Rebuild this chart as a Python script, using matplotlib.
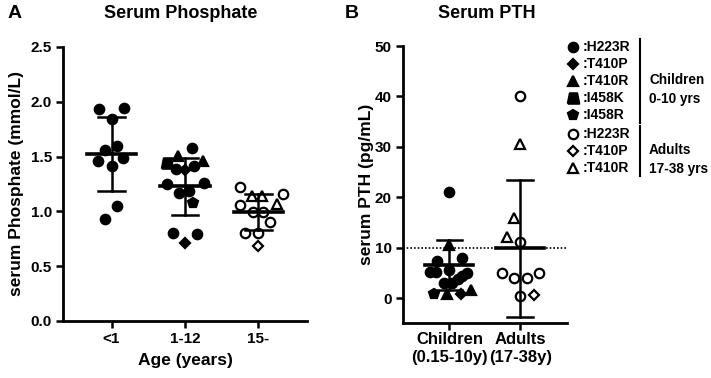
import numpy as np
import matplotlib
matplotlib.use('Agg')
import matplotlib.pyplot as plt

plt.rcParams['font.family'] = ['Liberation Sans', 'DejaVu Sans']
plt.rcParams['font.weight'] = 'bold'
plt.rcParams['axes.labelweight'] = 'bold'

#%% data - Panel A (serum phosphate, mmol/L)
phos_groups = ['<1', '1-12', '15-']
# (x offset from group centre, value, marker key)
phos_lt1 = [(-0.17, 1.938, 'H223R'), (0.17, 1.944, 'H223R'), (0.0, 1.846, 'H223R'),
            (-0.087, 1.557, 'H223R'), (0.076, 1.597, 'H223R'), (-0.177, 1.463, 'H223R'),
            (0.158, 1.484, 'H223R'), (0.0, 1.417, 'H223R'), (0.076, 1.045, 'H223R'),
            (-0.087, 0.935, 'H223R')]
phos_1to12 = [(0.089, 1.579, 'H223R'), (-0.25, 1.441, 'I458K'), (-0.098, 1.502, 'T410R'),
              (0.25, 1.463, 'T410R'), (-0.123, 1.387, 'H223R'), (0.0, 1.380, 'T410P'),
              (0.117, 1.417, 'H223R'), (-0.25, 1.252, 'H223R'), (0.254, 1.258, 'H223R'),
              (-0.087, 1.172, 'H223R'), (0.061, 1.190, 'H223R'), (0.113, 1.076, 'I458R'),
              (-0.168, 0.807, 'H223R'), (0.164, 0.798, 'H223R'), (0.0, 0.710, 'T410P')]
phos_15 = [(-0.25, 1.222, 'H223R'), (-0.255, 1.062, 'H223R'), (-0.086, 1.136, 'T410R'),
           (0.045, 1.136, 'T410R'), (0.333, 1.155, 'H223R'), (0.245, 1.066, 'T410R'),
           (-0.076, 0.995, 'H223R'), (0.068, 0.995, 'H223R'), (0.16, 0.899, 'H223R'),
           (-0.188, 0.807, 'H223R'), (-0.01, 0.807, 'H223R'), (0.0, 0.686, 'T410P')]
phos_filled = [True, True, False]
phos_mean = [1.524, 1.228, 0.995]
phos_sd = [0.340, 0.263, 0.165]

#%% data - Panel B (serum PTH, pg/mL)
pth_groups = ['Children\n(0.15-10y)', 'Adults\n(17-38y)']
pth_children = [(0.0, 21.0, 'H223R'), (0.0, 10.56, 'T410R'), (-0.178, 7.45, 'H223R'),
                (0.175, 8.0, 'H223R'), (-0.273, 5.2, 'H223R'), (-0.188, 5.2, 'H223R'),
                (0.0, 5.7, 'H223R'), (-0.075, 3.1, 'H223R'), (0.04, 3.1, 'H223R'),
                (0.12, 3.8, 'H223R'), (0.18, 4.4, 'H223R'), (0.246, 5.1, 'H223R'),
                (-0.216, 0.85, 'I458R'), (-0.03, 0.85, 'T410R'), (0.16, 0.85, 'T410P'),
                (0.3, 1.65, 'T410R')]
pth_adults = [(0.0, 40.0, 'H223R'), (0.0, 30.5, 'T410R'), (-0.085, 15.9, 'T410R'),
              (-0.18, 12.2, 'T410R'), (0.0, 11.1, 'H223R'), (-0.26, 5.07, 'H223R'),
              (-0.095, 3.96, 'H223R'), (0.095, 3.96, 'H223R'), (0.26, 5.07, 'H223R'),
              (0.0, 0.46, 'H223R'), (0.19, 0.65, 'T410P')]
pth_filled = [True, False]
pth_mean = [6.6, 9.9]
pth_sd = [5.0, 13.5]
pth_ref = 10

legend_children = ['H223R', 'T410P', 'T410R', 'I458K', 'I458R']
legend_adults = ['H223R', 'T410P', 'T410R']

#%% marker styles
trapezoid = [(-0.55, -0.5), (0.55, -0.5), (0.35, 0.5), (-0.35, 0.5), (-0.55, -0.5)]
markers = {'H223R': ('o', 6.8), 'T410P': ('D', 5.4), 'T410R': ('^', 7.0),
           'I458K': (trapezoid, 8.2), 'I458R': ('p', 7.4)}


def draw_points(ax, pts, xc, filled):
    for dx, val, key in pts:
        m, s = markers[key]
        ax.plot(xc + dx, val, linestyle='none', marker=m, markersize=s,
                markerfacecolor='black' if filled else 'white',
                markeredgecolor='black', markeredgewidth=1.6, zorder=3)


def draw_mean_sd(ax, xc, mean, sd):
    ax.plot([xc - 0.34, xc + 0.34], [mean, mean], color='black', lw=2.6, zorder=4)
    ax.plot([xc, xc], [mean - sd, mean + sd], color='black', lw=1.8, zorder=4)
    for yv in (mean - sd, mean + sd):
        ax.plot([xc - 0.18, xc + 0.18], [yv, yv], color='black', lw=1.8, zorder=4)


def style_axis(ax):
    for side in ('top', 'right'):
        ax.spines[side].set_visible(False)
    for side in ('left', 'bottom'):
        ax.spines[side].set_linewidth(2.0)
    ax.tick_params(axis='both', width=1.8, length=5, labelsize=11, pad=3)


fig = plt.figure(figsize=(7.11, 3.78), dpi=100)

#%% Panel A
axA = fig.add_axes([63/711, 1-321/378, 244/711, 274/378])
for i, pts in enumerate([phos_lt1, phos_1to12, phos_15]):
    draw_points(axA, pts, i + 1, phos_filled[i])
    draw_mean_sd(axA, i + 1, phos_mean[i], phos_sd[i])
axA.set_xlim(0.34, 3.66)
axA.set_ylim(0, 2.5)
axA.set_yticks(np.arange(0, 2.51, 0.5))
axA.set_yticklabels(['%.1f' % v for v in np.arange(0, 2.51, 0.5)])
axA.set_xticks([1, 2, 3])
axA.set_xticklabels(phos_groups)
style_axis(axA)
axA.tick_params(axis='x', pad=3)
axA.set_ylabel('serum Phosphate (mmol/L)', fontsize=12.5, labelpad=5)
axA.set_xlabel('Age (years)', fontsize=12.5, labelpad=5)
for lab in axA.get_xticklabels() + axA.get_yticklabels():
    lab.set_fontweight('bold')

#%% Panel B
axB = fig.add_axes([403/711, 1-322.7/378, 164/711, 276.7/378])
for i, pts in enumerate([pth_children, pth_adults]):
    draw_points(axB, pts, i + 1, pth_filled[i])
    draw_mean_sd(axB, i + 1, pth_mean[i], pth_sd[i])
axB.axhline(pth_ref, color='black', lw=1.2, linestyle=(0, (1.0, 1.2)), zorder=2)
axB.set_xlim(0.345, 2.66)
axB.set_ylim(-4.8, 50)
axB.set_yticks(np.arange(0, 51, 10))
axB.set_xticks([1, 2])
axB.set_xticklabels(pth_groups)
style_axis(axB)
axB.tick_params(axis='x', labelsize=12, pad=2)
axB.set_ylabel('serum PTH (pg/mL)', fontsize=12.5, labelpad=1)
for lab in axB.get_xticklabels() + axB.get_yticklabels():
    lab.set_fontweight('bold')

#%% titles
fig.text(15/711, 1-13/378, 'A', fontsize=14, fontweight='bold', ha='center', va='center')
fig.text(352/711, 1-13/378, 'B', fontsize=14, fontweight='bold', ha='center', va='center')
fig.text(181/711, 1-13/378, 'Serum Phosphate', fontsize=13, fontweight='bold', ha='center', va='center')
fig.text(487/711, 1-13/378, 'Serum PTH', fontsize=13, fontweight='bold', ha='center', va='center')

#%% legend (drawn in pixel space on an overlay axis)
axL = fig.add_axes([0, 0, 1, 1])
axL.set_xlim(0, 711)
axL.set_ylim(378, 0)
axL.axis('off')
row = 17
y0 = 47
for k, key in enumerate(legend_children):
    m, s = markers[key]
    yy = y0 + k*row
    axL.plot(573, yy, marker=m, markersize=s, color='black', markeredgewidth=1.6)
    axL.text(583, yy, ':' + key, fontsize=10, fontweight='bold', va='center', ha='left')
y1 = y0 + 5*row + 2
for k, key in enumerate(legend_adults):
    m, s = markers[key]
    yy = y1 + k*row
    axL.plot(573, yy, marker=m, markersize=s, markerfacecolor='white',
             markeredgecolor='black', markeredgewidth=1.6)
    axL.text(583, yy, ':' + key, fontsize=10, fontweight='bold', va='center', ha='left')
axL.plot([640, 640], [y0 - 8, y0 + 4*row + 8], color='black', lw=1.5)
axL.plot([640, 640], [y1 - 8, y1 + 2*row + 8], color='black', lw=1.5)
axL.text(649, y0 + 2.5*row, 'Children\n0-10 yrs', fontsize=9.8, fontweight='bold', va='center',
         ha='left', linespacing=1.45)
axL.text(649, y1 + 1.5*row, 'Adults\n17-38 yrs', fontsize=9.8, fontweight='bold', va='center',
         ha='left', linespacing=1.45)

plt.savefig('out.png', dpi=100)
